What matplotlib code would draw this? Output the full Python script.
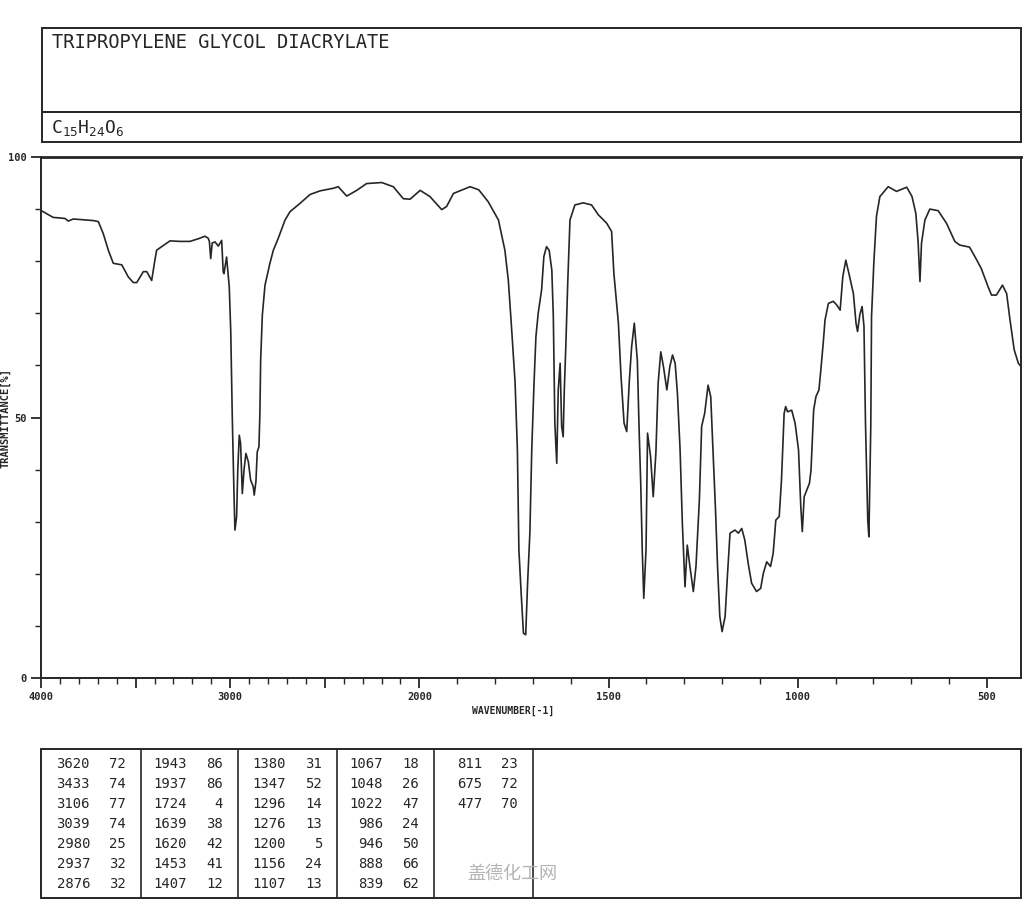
import matplotlib

matplotlib.use("Agg")
import matplotlib.pyplot as plt
import numpy as np
from matplotlib.patches import Rectangle
from matplotlib.ticker import FixedLocator, FuncFormatter

TITLE = "TRIPROPYLENE GLYCOL DIACRYLATE"
FORMULA = r"$\mathregular{C_{15}H_{24}O_{6}}$"
WATERMARK = "盖德化工网"

# spectrum (cm-1, %T)
wavenumber = [
    4000, 3988, 3960, 3935, 3900, 3873, 3856, 3829, 3760, 3724, 3697, 3671,
    3644, 3618, 3573, 3539, 3512, 3494, 3459, 3441, 3415, 3398, 3389, 3362,
    3318, 3265, 3213, 3169, 3133, 3116, 3110, 3103, 3095, 3080, 3063, 3045,
    3037, 3033, 3019, 3005, 2997, 2989, 2980, 2975, 2966, 2960, 2952, 2945,
    2936, 2927, 2917, 2904, 2892, 2878, 2873, 2864, 2857, 2848, 2843, 2839,
    2830, 2816, 2790, 2772, 2746, 2710, 2684, 2631, 2578, 2525, 2455, 2429,
    2384, 2331, 2279, 2199, 2138, 2085, 2049, 1998, 1972, 1941, 1928, 1910,
    1866, 1843, 1818, 1791, 1774, 1765, 1756, 1747, 1741, 1737, 1731, 1725,
    1719, 1714, 1708, 1703, 1697, 1692, 1686, 1677, 1671, 1664, 1657, 1650,
    1646, 1642, 1637, 1633, 1628, 1624, 1620, 1617, 1613, 1608, 1602, 1589,
    1567, 1545, 1527, 1505, 1492, 1486, 1474, 1467, 1459, 1452, 1445, 1439,
    1432, 1424, 1419, 1415, 1411, 1407, 1401, 1397, 1389, 1382, 1375, 1369,
    1362, 1355, 1346, 1338, 1331, 1324, 1318, 1311, 1305, 1298, 1292, 1285,
    1276, 1269, 1260, 1254, 1246, 1237, 1230, 1224, 1217, 1212, 1206, 1200,
    1192, 1186, 1179, 1166, 1157, 1148, 1140, 1131, 1122, 1109, 1098, 1091,
    1082, 1072, 1065, 1058, 1049, 1043, 1036, 1032, 1027, 1016, 1007, 998,
    992, 988, 983, 976, 969, 965, 958, 952, 944, 939, 932, 928,
    919, 906, 897, 888, 881, 873, 864, 853, 846, 842, 836, 830,
    825, 821, 815, 812, 807, 805, 799, 792, 783, 761, 739, 712,
    698, 688, 682, 677, 673, 664, 651, 629, 607, 585, 572, 546,
    532, 515, 497, 488, 475, 459, 448, 439, 428, 417, 410,
]
transmittance = [
    89.7, 89.5, 88.9, 88.4, 88.3, 88.2, 87.7, 88.1, 87.9, 87.8, 87.6, 85.3,
    82.1, 79.6, 79.3, 77.0, 75.9, 75.9, 78.0, 78.0, 76.3, 80.2, 82.1, 82.8,
    83.9, 83.8, 83.8, 84.3, 84.8, 84.4, 83.8, 80.5, 83.5, 83.7, 82.9, 84.0,
    78.0, 77.6, 80.8, 75.1, 66.5, 50.2, 35.4, 28.4, 31.0, 39.9, 46.6, 45.0,
    35.4, 39.9, 43.1, 41.5, 38.0, 36.7, 35.1, 37.7, 43.4, 44.4, 50.8, 61.0,
    69.7, 75.4, 79.6, 82.1, 84.4, 87.9, 89.5, 91.1, 92.8, 93.5, 94.0, 94.3,
    92.5, 93.6, 94.9, 95.1, 94.3, 92.0, 91.9, 93.6, 92.4, 89.9, 90.5, 93.0,
    94.3, 93.7, 91.4, 87.9, 82.1, 76.4, 66.8, 56.6, 43.8, 24.6, 16.3, 8.6,
    8.3, 18.2, 27.8, 43.8, 56.6, 65.5, 70.0, 74.5, 80.9, 82.8, 82.1, 78.3,
    69.4, 48.9, 41.2, 55.3, 60.4, 48.3, 46.3, 55.3, 63.6, 75.7, 87.9, 90.8,
    91.2, 90.8, 88.9, 87.3, 85.7, 77.7, 68.1, 57.8, 48.9, 47.3, 57.2, 63.6,
    68.1, 61.0, 47.0, 37.3, 24.6, 15.3, 24.6, 47.0, 42.5, 34.8, 43.1, 56.6,
    62.6, 59.8, 55.3, 59.8, 62.0, 60.4, 54.6, 43.8, 29.7, 17.5, 25.5, 21.4,
    16.6, 21.4, 34.2, 48.3, 50.8, 56.2, 54.0, 43.8, 31.6, 21.4, 11.8, 8.9,
    11.8, 19.5, 27.8, 28.4, 27.8, 28.7, 26.5, 22.0, 18.2, 16.6, 17.2, 20.1,
    22.3, 21.4, 23.9, 30.3, 31.0, 38.0, 50.8, 52.1, 51.1, 51.4, 48.9, 43.8,
    32.9, 28.1, 34.8, 36.1, 37.4, 39.9, 51.4, 54.0, 55.3, 59.1, 64.9, 68.7,
    71.9, 72.3, 71.6, 70.6, 77.0, 80.2, 77.4, 73.8, 68.1, 66.5, 69.7, 71.3,
    67.5, 48.9, 30.3, 27.1, 48.3, 69.4, 79.6, 88.6, 92.4, 94.3, 93.4, 94.2,
    92.4, 89.2, 83.8, 76.1, 83.4, 87.9, 90.0, 89.7, 87.3, 83.8, 83.1, 82.7,
    80.9, 78.6, 75.1, 73.5, 73.5, 75.4, 73.8, 68.7, 63.0, 60.4, 59.8,
]

# peak table printed under the chart
peak_wn = [3620, 3433, 3106, 3039, 2980, 2937, 2876,
           1943, 1937, 1724, 1639, 1620, 1453, 1407,
           1380, 1347, 1296, 1276, 1200, 1156, 1107,
           1067, 1048, 1022, 986, 946, 888, 839,
           811, 675, 477]
peak_t = [72, 74, 77, 74, 25, 32, 32,
          86, 86, 4, 38, 42, 41, 12,
          31, 52, 14, 13, 5, 24, 13,
          18, 26, 47, 24, 50, 66, 62,
          23, 72, 70]

major_ticks = [4000, 3500, 3000, 2500, 2000, 1500, 1000, 500]
labeled_ticks = [4000, 3000, 2000, 1500, 1000, 500]

INK = "#262626"
MONO = "DejaVu Sans Mono"
W, H = 1024, 900


def fwd(w):
    # above 2000 cm-1 the chart is drawn at half the scale
    w = np.asarray(w, dtype=float)
    return np.where(w >= 2000, w, 2 * w - 2000)


def inv(f):
    f = np.asarray(f, dtype=float)
    return np.where(f >= 2000, f, (f + 2000) / 2)


def fig_box(px_left, px_top, px_right, px_bottom):
    return [px_left / W, 1 - px_bottom / H, (px_right - px_left) / W,
            (px_bottom - px_top) / H]


fig = plt.figure(figsize=(W / 100, H / 100), dpi=100)

# overlay in pixel coordinates for the header, labels and peak table
ov = fig.add_axes([0, 0, 1, 1], zorder=0)
ov.set_xlim(0, W)
ov.set_ylim(H, 0)
ov.axis("off")

ax = fig.add_axes(fig_box(41, 157, 1021, 678), zorder=1)
ax.set_xscale("function", functions=(fwd, inv))
ax.plot(wavenumber, transmittance, color=INK, lw=1.2)
ax.set_xlim(4000, 410)
ax.set_ylim(0, 100)

ax.xaxis.set_major_locator(FixedLocator(major_ticks))
ax.xaxis.set_minor_locator(FixedLocator(list(range(4000, 499, -100))))
ax.xaxis.set_major_formatter(
    FuncFormatter(lambda v, pos: f"{v:.0f}" if round(v) in labeled_ticks else ""))
ax.yaxis.set_major_locator(FixedLocator([0, 50, 100]))
ax.yaxis.set_minor_locator(FixedLocator(list(range(10, 100, 10))))
ax.tick_params(which="major", direction="out", length=7, width=1.3, color=INK,
               labelsize=7.5, labelcolor=INK, pad=3)
ax.tick_params(which="minor", direction="out", length=4, width=1.0, color=INK)
for lab in ax.get_xticklabels() + ax.get_yticklabels():
    lab.set_family(MONO)
    lab.set_weight("bold")
for side, sp in ax.spines.items():
    sp.set_color(INK)
    sp.set_linewidth(2.0 if side == "top" else 1.4)

ov.text(5, 418, "TRANSMITTANCE[%]", rotation=90, ha="center", va="center",
        family=MONO, fontsize=7.5, weight="bold", color=INK)
ov.text(513, 711, "WAVENUMBER[-1]", ha="center", va="center",
        family=MONO, fontsize=7, weight="bold", color=INK)

# header boxes
ov.add_patch(Rectangle((42, 28), 979, 84, fill=False, ec=INK, lw=1.4))
ov.add_patch(Rectangle((42, 112), 979, 30, fill=False, ec=INK, lw=1.4))
ov.text(52, 43, TITLE, ha="left", va="center", family=MONO, fontsize=13.5,
        color=INK)
ov.text(51, 128, FORMULA, ha="left", va="center", family=MONO, fontsize=13,
        color=INK)

# peak table
ov.add_patch(Rectangle((41, 749), 980, 149, fill=False, ec=INK, lw=1.4))
col_sep = [141, 238, 337, 434, 533]
for x in col_sep:
    ov.plot([x, x], [749, 898], color=INK, lw=1.2)
rows = 7
for i, (wn, t) in enumerate(zip(peak_wn, peak_t)):
    col, row = divmod(i, rows)
    sep = col_sep[col]
    y = 764 + 20 * row
    ov.text(sep - 51, y, str(wn), ha="right", va="center", family=MONO,
            fontsize=10, color=INK)
    ov.text(sep - 15, y, str(t), ha="right", va="center", family=MONO,
            fontsize=10, color=INK)

ov.text(512, 874, WATERMARK, ha="center", va="center", color="#b4b4b4",
        fontsize=13, family=["Noto Sans CJK SC", "DejaVu Sans"])

fig.savefig("out.png", dpi=100)
